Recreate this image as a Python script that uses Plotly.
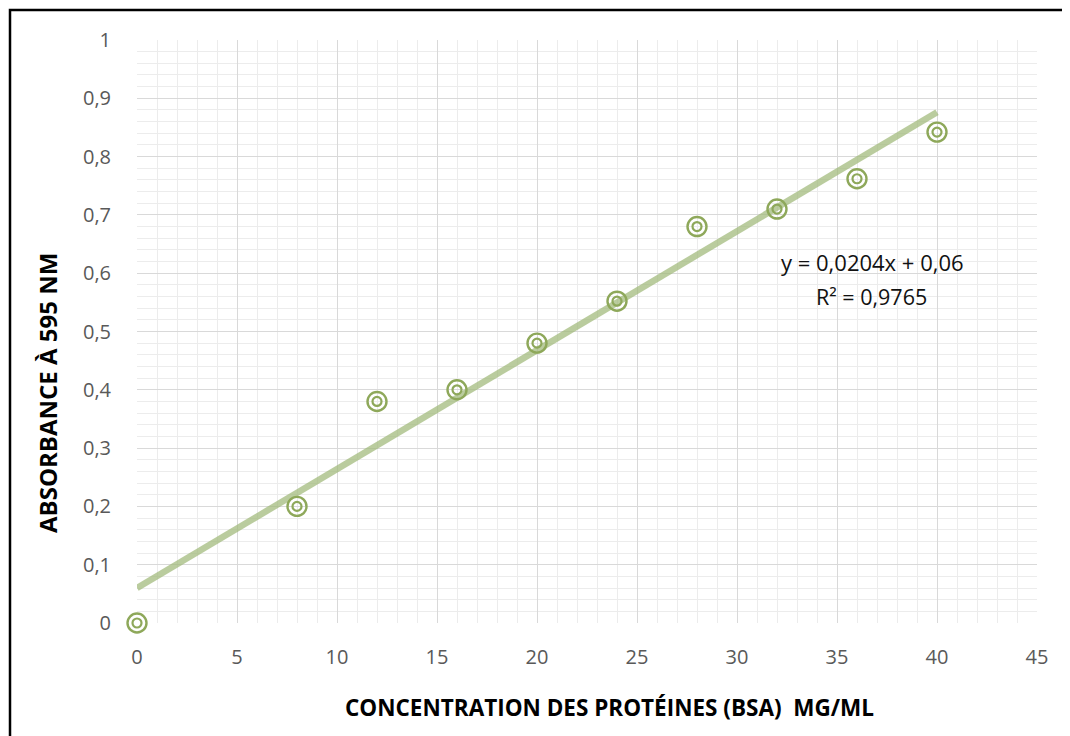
import plotly.graph_objects as go

concentration = [0, 8, 12, 16, 20, 24, 28, 32, 36, 40]
absorbance = [0.0, 0.20, 0.38, 0.40, 0.48, 0.552, 0.68, 0.71, 0.762, 0.842]
slope = 0.0204
intercept = 0.06
trend_x = [0, 40]
trend_y = [intercept + slope * x for x in trend_x]

x_ticks = [0, 5, 10, 15, 20, 25, 30, 35, 40, 45]
y_ticks = [0, 0.1, 0.2, 0.3, 0.4, 0.5, 0.6, 0.7, 0.8, 0.9, 1]
y_tick_labels = ["0", "0,1", "0,2", "0,3", "0,4", "0,5", "0,6", "0,7", "0,8", "0,9", "1"]

FONT = "Open Sans, sans-serif"
GREEN = "#8ea85a"

# the page has an 8px body margin; figure size is reduced accordingly
OFF = 8

fig = go.Figure()
fig.add_trace(go.Scatter(x=trend_x, y=trend_y, mode="lines",
                         line=dict(color="rgba(160,185,120,0.72)", width=6.5),
                         hoverinfo="skip", showlegend=False))
fig.add_trace(go.Scatter(x=concentration, y=absorbance, mode="markers",
                         marker=dict(symbol="circle-open", size=19, color=GREEN,
                                     line=dict(width=2.4, color=GREEN)),
                         cliponaxis=False, showlegend=False))
fig.add_trace(go.Scatter(x=concentration, y=absorbance, mode="markers",
                         marker=dict(symbol="circle-open", size=9, color=GREEN,
                                     line=dict(width=2.2, color=GREEN)),
                         cliponaxis=False, showlegend=False, hoverinfo="skip"))

fig.update_layout(
    width=1070 - OFF, height=736 - OFF,
    margin=dict(l=137 - OFF, r=33, t=40 - OFF, b=113),
    paper_bgcolor="white", plot_bgcolor="white",
    font=dict(family=FONT, size=20, color="#595959"),
    xaxis=dict(range=[0, 45], tickvals=x_ticks, ticks="outside", ticklen=16,
               tickcolor="rgba(0,0,0,0)", showline=False,
               zeroline=False, showgrid=True, gridcolor="#d9d9d9", gridwidth=1.3,
               minor=dict(dtick=1, showgrid=True, gridcolor="#ececec", gridwidth=1.3, ticks=""),
               tickfont=dict(size=20, color="#595959")),
    yaxis=dict(range=[0, 1], tickvals=y_ticks, ticktext=y_tick_labels,
               ticks="outside", ticklen=21, tickcolor="rgba(0,0,0,0)",
               showline=False, zeroline=False, showgrid=True, gridcolor="#d9d9d9",
               gridwidth=1.3,
               minor=dict(dtick=0.02, showgrid=True, gridcolor="#ececec", gridwidth=1.3, ticks=""),
               tickfont=dict(size=20, color="#595959")),
    annotations=[
        dict(text="<b>CONCENTRATION DES PROTÉINES (BSA)  MG/ML</b>", xref="paper", yref="paper",
             x=(609 - 137) / 900, y=(623 - 707) / 583, showarrow=False,
             font=dict(family=FONT, size=22.5, color="#000000"), xanchor="center", yanchor="middle"),
        dict(text="<b>ABSORBANCE À 595 NM</b>", xref="paper", yref="paper",
             x=(47 - 137) / 900, y=(623 - 393) / 583, showarrow=False, textangle=-90,
             font=dict(family=FONT, size=24, color="#000000"), xanchor="center", yanchor="middle"),
        dict(text="y = 0,0204x + 0,06", xref="paper", yref="paper",
             x=(872 - 137) / 900, y=(623 - 262) / 583, showarrow=False,
             font=dict(family=FONT, size=22, color="#111111"), xanchor="center", yanchor="middle"),
        dict(text="R² = 0,9765", xref="paper", yref="paper",
             x=(871 - 137) / 900, y=(623 - 296) / 583, showarrow=False,
             font=dict(family=FONT, size=21.5, color="#111111"), xanchor="center", yanchor="middle"),
    ],
    shapes=[
        dict(type="rect", xref="paper", yref="paper",
             x0=(10 - 137) / 900, x1=(1090 - 137) / 900,
             y0=(623 - 760) / 583, y1=(623 - 10) / 583,
             line=dict(color="black", width=2.5), layer="above"),
    ],
)

fig.write_html("out.html")
